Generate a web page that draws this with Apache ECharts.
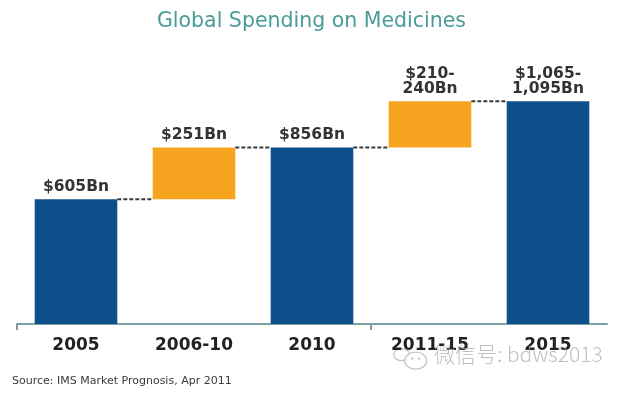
<!DOCTYPE html>
<html>
<head>
<meta charset="utf-8">
<script src="https://cdn.jsdelivr.net/npm/echarts@6/dist/echarts.min.js"></script>
<style>
  html, body { margin: 0; padding: 0; background: #ffffff; }
  #chart { width: 623px; height: 393px; }
</style>
</head>
<body>
<div id="chart"></div>
<script>
// ---- Data ----
const categories = ['2005', '2006-10', '2010', '2011-15', '2015'];
const baseValues = [0, 605, 0, 856, 0];          // invisible offsets
const totalValues = [605, '-', 856, '-', 1080];   // blue bars
const growthValues = ['-', 251, '-', 225, '-'];    // orange increments
const valueLabels = ['$605Bn', '$251Bn', '$856Bn', '$210-\n240Bn', '$1,065-\n1,095Bn'];
const tickBoundaries = [0, 3];                      // axis ticks before these categories
const titleText = 'Global Spending on Medicines';
const sourceText = 'Source: IMS Market Prognosis, Apr 2011';
const watermarkText = '微信号: bdws2013';

// top of each column (derived)
const tops = categories.map((c, i) => {
  const t = totalValues[i] === '-' ? 0 : totalValues[i];
  const g = growthValues[i] === '-' ? 0 : growthValues[i];
  return baseValues[i] + t + g;
});
const connectors = [];
for (let i = 0; i < categories.length - 1; i++) connectors.push([i, tops[i]]);

const BAR_RATIO = 0.70;
const AXIS_COLOR = '#7a9fa4';
const labelStyle = {
  show: true,
  position: 'top',
  distance: 5,
  fontFamily: 'DejaVu Sans',
  fontWeight: 'bold',
  fontSize: 15.5,
  lineHeight: 15,
  color: '#333333',
  formatter: p => valueLabels[p.dataIndex]
};

const chart = echarts.init(document.getElementById('chart'));
chart.setOption({
  backgroundColor: '#ffffff',
  animation: false,
  title: {
    text: titleText,
    left: 'center',
    top: 6,
    textStyle: { fontFamily: 'DejaVu Sans', fontSize: 20.5, fontWeight: 'normal', color: '#4a9c96' }
  },
  grid: { left: 17, right: 16, top: 56, bottom: 69 },
  xAxis: {
    type: 'category',
    data: categories,
    axisLine: { lineStyle: { color: AXIS_COLOR, width: 2 } },
    axisTick: { show: false },
    axisLabel: {
      fontFamily: 'DejaVu Sans',
      fontWeight: 'bold',
      fontSize: 17,
      color: '#222222',
      margin: 13,
      interval: 0
    }
  },
  yAxis: {
    type: 'value',
    min: 0,
    max: 1300,
    show: false,
    splitLine: { show: false }
  },
  series: [
    {
      type: 'bar', stack: 'w', data: baseValues, barWidth: (BAR_RATIO * 100) + '%',
      itemStyle: { color: 'transparent' }, silent: true
    },
    {
      type: 'bar', stack: 'w', data: totalValues, barWidth: (BAR_RATIO * 100) + '%',
      itemStyle: { color: '#0d4f8a' }, label: labelStyle
    },
    {
      type: 'bar', stack: 'w', data: growthValues, barWidth: (BAR_RATIO * 100) + '%',
      itemStyle: { color: '#f7a521' }, label: labelStyle
    },
    {
      type: 'custom',
      data: connectors,
      z: 5,
      renderItem: function (params, api) {
        const pt = api.coord([api.value(0), api.value(1)]);
        const band = api.size([1, 0])[0];
        const half = band * BAR_RATIO / 2;
        return {
          type: 'line',
          shape: { x1: pt[0] + half, y1: pt[1], x2: pt[0] + band - half, y2: pt[1] },
          style: { stroke: '#3a3a3a', lineWidth: 2, lineDash: [4, 2] }
        };
      }
    },
    {
      type: 'custom',
      data: tickBoundaries.map(i => [i, 0]),
      clip: false,
      z: 6,
      renderItem: function (params, api) {
        const pt = api.coord([api.value(0), api.value(1)]);
        const band = api.size([1, 0])[0];
        const x = Math.round(pt[0] - band / 2);
        return {
          type: 'line',
          shape: { x1: x, y1: pt[1], x2: x, y2: pt[1] + 6 },
          style: { stroke: AXIS_COLOR, lineWidth: 2 }
        };
      }
    }
  ],
  graphic: [
    {
      type: 'text', left: 12, top: 376,
      style: { text: sourceText, fontFamily: 'DejaVu Sans', fontSize: 11, fill: '#3a3a3a' }
    },
    {
      type: 'group', left: 393, top: 348,
      children: [
        { type: 'ellipse', shape: { cx: 9, cy: 7, rx: 8, ry: 6 }, style: { fill: 'rgba(255,255,255,0.7)', stroke: '#c4c4c4', lineWidth: 1.3 } },
        { type: 'ellipse', shape: { cx: 23, cy: 13, rx: 11, ry: 8.5 }, style: { fill: 'rgba(255,255,255,0.85)', stroke: '#c4c4c4', lineWidth: 1.3 } },
        { type: 'circle', shape: { cx: 19.5, cy: 11, r: 1.2 }, style: { fill: '#c4c4c4' } },
        { type: 'circle', shape: { cx: 26.5, cy: 11, r: 1.2 }, style: { fill: '#c4c4c4' } }
      ]
    },
    {
      type: 'text', left: 434, top: 344,
      z: 10,
      style: { text: watermarkText, fontFamily: 'Noto Sans CJK SC', fontWeight: 300, fontSize: 21, fill: 'rgba(170,170,170,0.75)' }
    }
  ]
});
</script>
</body>
</html>
